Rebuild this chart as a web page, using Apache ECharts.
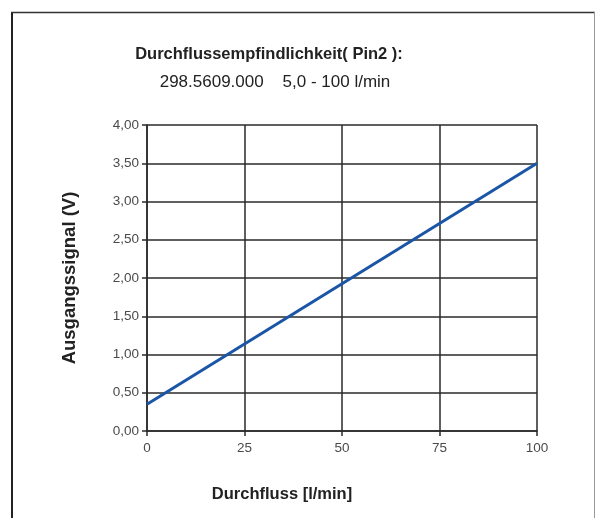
<!DOCTYPE html>
<html>
<head>
<meta charset="utf-8">
<script src="https://cdn.jsdelivr.net/npm/echarts@6/dist/echarts.min.js"></script>
<style>
  html, body { margin: 0; padding: 0; background: #fff; }
  #chart { width: 596px; height: 518px; }
</style>
</head>
<body>
<div id="chart"></div>
<script>
// flow (l/min) vs output signal (V)
const flowValues = [0, 100];
const signalValues = [0.35, 3.5];
const xTicks = [0, 25, 50, 75, 100];
const yTicks = [0, 0.5, 1, 1.5, 2, 2.5, 3, 3.5, 4];

const chart = echarts.init(document.getElementById('chart'));

const fmtComma = v => v.toFixed(2).replace('.', ',');
const gridLine = { show: true, lineStyle: { color: '#2a2a2a', width: 1.5 } };
const axisLine = { show: true, lineStyle: { color: '#2a2a2a', width: 1.5 } };
const labelFont = { color: '#4a4a4a', fontSize: 13.5, fontFamily: 'Liberation Sans Narrow, Liberation Sans, sans-serif' };

chart.setOption({
  animation: false,
  graphic: [
    { type: 'line', shape: { x1: 12, y1: 12, x2: 12, y2: 518 }, style: { stroke: '#222', lineWidth: 2 } },
    { type: 'line', shape: { x1: 11, y1: 12.5, x2: 595, y2: 12.5 }, style: { stroke: '#333', lineWidth: 1.5 } },
    { type: 'line', shape: { x1: 594.5, y1: 12, x2: 594.5, y2: 518 }, style: { stroke: '#999', lineWidth: 1 } },
    {
      type: 'text',
      style: {
        text: 'Durchflussempfindlichkeit( Pin2 ):',
        font: 'bold 16.5px Liberation Sans, Arial, sans-serif', fill: '#222',
        textAlign: 'center', textVerticalAlign: 'middle'
      },
      x: 269, y: 54
    },
    {
      type: 'text',
      style: {
        text: '298.5609.000    5,0 - 100 l/min',
        font: '17px Liberation Sans, Arial, sans-serif', fill: '#222',
        textAlign: 'center', textVerticalAlign: 'middle'
      },
      x: 275, y: 82
    }
  ],
  grid: { left: 147, right: 59, top: 125, bottom: 87, containLabel: false },
  xAxis: {
    type: 'value',
    min: 0, max: 100, interval: 25,
    name: 'Durchfluss [l/min]',
    nameLocation: 'middle',
    nameGap: 55,
    nameTextStyle: { fontSize: 16.5, fontWeight: 'bold', color: '#222', fontFamily: 'Liberation Sans, Arial, sans-serif', padding: [0, 120, 0, 0] },
    axisLine: axisLine,
    axisTick: { show: true, length: 5, lineStyle: { color: '#2a2a2a', width: 1.5 } },
    axisLabel: Object.assign({ margin: 10, formatter: v => xTicks.includes(v) ? String(v) : '' }, labelFont),
    splitLine: gridLine
  },
  yAxis: {
    type: 'value',
    min: 0, max: 4, interval: 0.5,
    name: 'Ausgangssignal (V)',
    nameLocation: 'middle',
    nameGap: 68,
    nameTextStyle: { fontSize: 18.5, fontWeight: 'bold', color: '#222', fontFamily: 'Liberation Sans, Arial, sans-serif' },
    axisLine: axisLine,
    axisTick: { show: true, length: 5, lineStyle: { color: '#2a2a2a', width: 1.5 } },
    axisLabel: Object.assign({ margin: 8, formatter: v => yTicks.includes(v) ? fmtComma(v) : '' }, labelFont),
    splitLine: gridLine
  },
  series: [{
    type: 'line',
    data: flowValues.map((x, i) => [x, signalValues[i]]),
    showSymbol: false,
    lineStyle: { color: '#1a55a6', width: 3 },
    z: 5
  }]
});
</script>
</body>
</html>
